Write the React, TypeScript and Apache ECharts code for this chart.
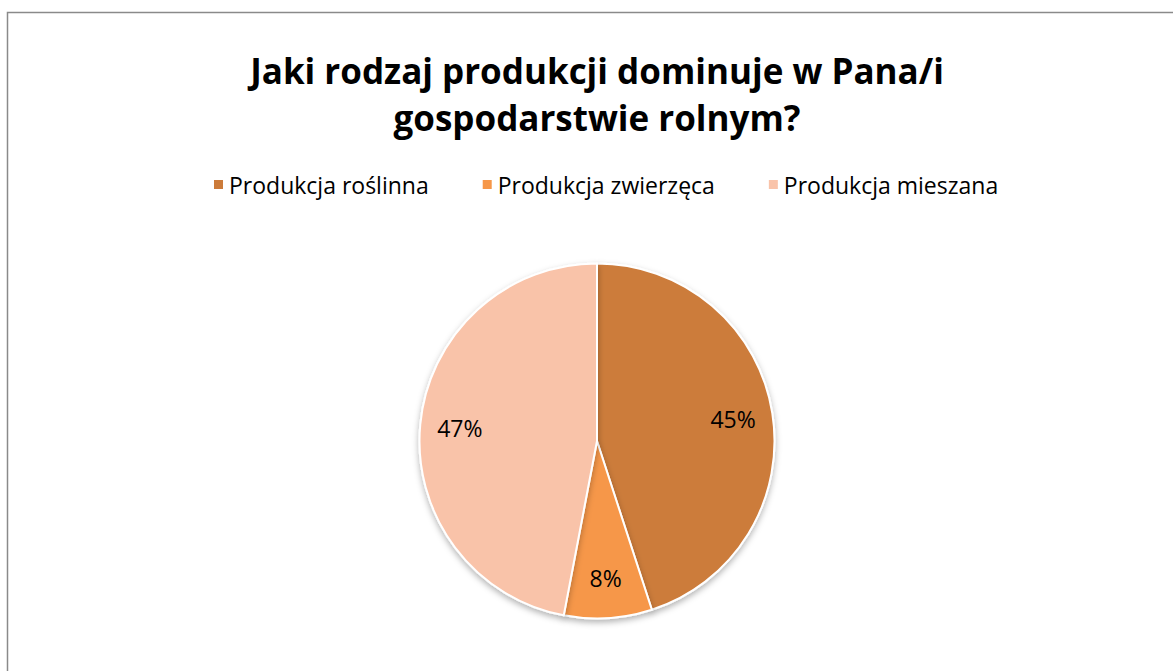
import React, { useEffect, useRef } from "react";
import * as echarts from "echarts";

const titleLines = ["Jaki rodzaj produkcji dominuje w Pana/i", "gospodarstwie rolnym?"];
const categories = ["Produkcja roślinna", "Produkcja zwierzęca", "Produkcja mieszana"];
const values = [45, 8, 47];
const colors = ["#CC7B3A", "#F69749", "#F9C3A9"];

export default function App() {
  const ref = useRef<HTMLDivElement>(null);
  useEffect(() => {
    if (!ref.current) return;
    const chart = echarts.init(ref.current, null, { renderer: "svg" });
    const data = categories.map((name, i) => ({ name, value: values[i], itemStyle: { color: colors[i] } }));
    const font = "'Open Sans', sans-serif";
    chart.setOption({
      animation: false,
      backgroundColor: "#ffffff",
      graphic: [
        {
          type: "rect",
          shape: { x: 7.5, y: 12.5, width: 1300, height: 800 },
          style: { fill: "none", stroke: "#8a8a8a", lineWidth: 1.5 },
          z: 0,
        },
        {
          type: "text",
          x: 597,
          y: 47,
          style: {
            text: titleLines.join("\n"),
            fontFamily: font,
            fontWeight: "bold",
            fontSize: 35,
            lineHeight: 47,
            fill: "#000",
            align: "center",
            verticalAlign: "top",
          },
        },
      ],
      legend: {
        data: categories,
        left: 207,
        top: 168,
        icon: "rect",
        itemWidth: 11,
        itemHeight: 11,
        itemGap: 52,
        textStyle: { fontFamily: font, fontSize: 23, color: "#000" },
      },
      series: [
        {
          type: "pie",
          center: [597, 441],
          radius: [0, 177.5],
          startAngle: 90,
          clockwise: true,
          data,
          label: { show: false },
          labelLine: { show: false },
          itemStyle: {
            borderColor: "#ffffff",
            borderWidth: 2,
            shadowBlur: 6,
            shadowOffsetY: 3,
            shadowColor: "rgba(0,0,0,0.3)",
          },
          emphasis: { disabled: true },
          silent: true,
        },
        {
          type: "pie",
          center: [597, 441],
          radius: [92, 177.5],
          startAngle: 90,
          clockwise: true,
          data: categories.map((name, i) => ({ name, value: values[i] })),
          itemStyle: { color: "rgba(0,0,0,0)" },
          label: {
            show: true,
            position: "inside",
            formatter: (p: any) => p.value + "%",
            fontFamily: font,
            fontSize: 23,
            color: "#000",
          },
          labelLine: { show: false },
          emphasis: { disabled: true },
          silent: true,
        },
      ],
    });
    return () => chart.dispose();
  }, []);
  return <div ref={ref} style={{ position: "fixed", left: 0, top: 0, width: 1173, height: 671 }} />;
}
